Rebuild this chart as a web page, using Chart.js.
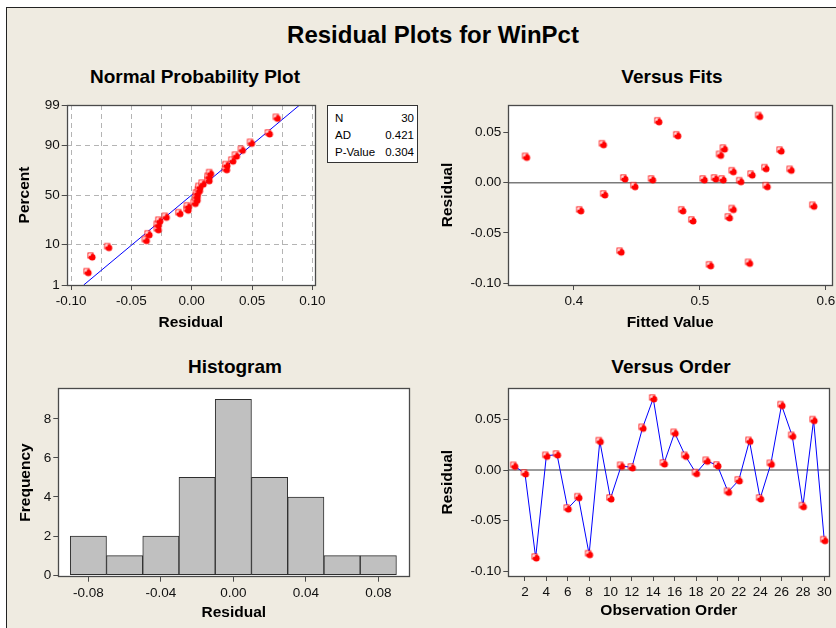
<!DOCTYPE html>
<html>
<head>
<meta charset="utf-8">
<title>Residual Plots for WinPct</title>
<script src="https://cdn.jsdelivr.net/npm/chart.js@4.4.1/dist/chart.umd.min.js"></script>
<style>
    body {
        margin: 0;
        width: 836px;
        height: 628px;
        overflow: hidden;
        position: relative;
        background: #fff;
        font-family: "Liberation Sans", Arial, sans-serif;
        color: #000;
    }

    #paper {
        position: absolute;
        left: 6px;
        top: 7px;
        width: 840px;
        height: 630px;
        background: #efebe1;
        border-left: 1px solid #222;
        border-top: 1px solid #222;
    }

    canvas {
        position: absolute;
    }

    .title {
        position: absolute;
        transform: translate(-50%, -50%);
        font-weight: bold;
        white-space: nowrap;
        line-height: 1;
    }

    #main-title {
        left: 433px;
        top: 35px;
        font-size: 24px;
    }

    .panel-title {
        font-size: 19px;
    }

    #stats {
        position: absolute;
        left: 327px;
        top: 105px;
        width: 89px;
        height: 56px;
        background: #fff;
        border: 1px solid #333;
        font-size: 11.5px;
    }

    #stats div {
        position: absolute;
        left: 7px;
        right: 3px;
        height: 17px;
        line-height: 17px;
    }

    #stats span {
        float: right;
    }
</style>
</head>
<body>
<div id="paper"></div>
<div class="title" id="main-title">Residual Plots for WinPct</div>
<div class="title panel-title" style="left:195px; top:76px;">Normal Probability Plot</div>
<div class="title panel-title" style="left:672px; top:76px;">Versus Fits</div>
<div class="title panel-title" style="left:235px; top:366px;">Histogram</div>
<div class="title panel-title" style="left:671px; top:366px;">Versus Order</div>

<canvas id="js--prob" width="335" height="280" style="left:0; top:60px;"></canvas>
<canvas id="js--fits" width="440" height="280" style="left:420px; top:60px;"></canvas>
<canvas id="js--hist" width="420" height="278" style="left:0; top:350px;"></canvas>
<canvas id="js--order" width="440" height="278" style="left:420px; top:350px;"></canvas>

<div id="stats"></div>

<script>

// residuen in volgorde van observatie (Versus Order)
const obsNumbers = [1, 2, 3, 4, 5, 6, 7, 8, 9, 10, 11, 12, 13, 14, 15,
    16, 17, 18, 19, 20, 21, 22, 23, 24, 25, 26, 27, 28, 29, 30];
const orderResid = [0.0041, -0.0034, -0.0863, 0.0140, 0.0153, -0.0380, -0.0268, -0.0830, 0.0285, -0.0281,
    0.0041, 0.0025, 0.0416, 0.0706, 0.0064, 0.0367, 0.0140, -0.0031, 0.0091, 0.0045,
    -0.0215, -0.0102, 0.0288, -0.0281, 0.0061, 0.0640, 0.0337, -0.0357, 0.0492, -0.0692];

// Versus Fits punten
const fitsFitted = [0.362, 0.423, 0.424, 0.405, 0.437, 0.440, 0.448, 0.462, 0.467, 0.482,
    0.486, 0.494, 0.503, 0.508, 0.512, 0.516, 0.519, 0.518, 0.523, 0.526,
    0.526, 0.532, 0.539, 0.541, 0.547, 0.552, 0.553, 0.564, 0.572, 0.590];
const fitsResid = [0.0257, 0.0383, -0.0117, -0.0276, -0.0687, 0.0042, -0.0035, 0.0032, 0.0611, 0.0472,
    -0.0276, -0.0376, 0.0032, -0.0823, 0.0042, 0.0277, 0.0340, 0.0032, -0.0346, 0.0114,
    -0.0263, 0.0015, -0.0799, 0.0081, 0.0664, 0.0144, -0.0035, 0.0320, 0.0128, -0.0230];

// histogram
const histMid = [-0.08, -0.06, -0.04, -0.02, 0.00, 0.02, 0.04, 0.06, 0.08];
const histCount = [2, 1, 2, 5, 9, 5, 4, 1, 1];

// tick labels
const probXTicks = [-0.100, -0.075, -0.050, -0.025, 0.000, 0.025, 0.050, 0.075, 0.100];
const probYTicks = [1, 10, 50, 90, 99];
const probLinePct = [1, 99];
const fitsXTicks = [0.4, 0.5, 0.6];
const residTicks = [-0.10, -0.05, 0.00, 0.05];
const histXTicks = [-0.08, -0.04, 0.00, 0.04, 0.08];
const histYTicks = [0, 2, 4, 6, 8];
const orderXTicks = [2, 4, 6, 8, 10, 12, 14, 16, 18, 20, 22, 24, 26, 28, 30];

// legenda blokje
const statLabels = ["N", "AD", "P-Value"];
const statValues = ["30", "0.421", "0.304"];


/* stats box */
const stats = document.getElementById("stats");
for (let i = 0; i < statLabels.length; i++) {
    const row = document.createElement("div");
    row.style.top = (3.5 + i * 17.3) + "px";
    row.innerHTML = statLabels[i] + "<span>" + statValues[i] + "</span>";
    stats.appendChild(row);
}


/* inverse normaal verdeling (voor de percent as) */
function invNorm(p) {
    const a = [-3.969683028665376e+01, 2.209460984245205e+02, -2.759285104469687e+02, 1.383577518672690e+02, -3.066479806614716e+01, 2.506628277459239e+00];
    const b = [-5.447609879822406e+01, 1.615858368580409e+02, -1.556989798598866e+02, 6.680131188771972e+01, -1.328068155288572e+01];
    const c = [-7.784894002430293e-03, -3.223964580411365e-01, -2.400758277161838e+00, -2.549732539343734e+00, 4.374664141464968e+00, 2.938163982698783e+00];
    const d = [7.784695709041462e-03, 3.224671290700398e-01, 2.445134137142996e+00, 3.754408661907416e+00];
    let q, r;
    if (p < 0.02425) {
        q = Math.sqrt(-2 * Math.log(p));
        return (((((c[0] * q + c[1]) * q + c[2]) * q + c[3]) * q + c[4]) * q + c[5]) / ((((d[0] * q + d[1]) * q + d[2]) * q + d[3]) * q + 1);
    }
    if (p > 1 - 0.02425) {
        q = Math.sqrt(-2 * Math.log(1 - p));
        return -(((((c[0] * q + c[1]) * q + c[2]) * q + c[3]) * q + c[4]) * q + c[5]) / ((((d[0] * q + d[1]) * q + d[2]) * q + d[3]) * q + 1);
    }
    q = p - 0.5;
    r = q * q;
    return (((((a[0] * r + a[1]) * r + a[2]) * r + a[3]) * r + a[4]) * r + a[5]) * q / (((((b[0] * r + b[1]) * r + b[2]) * r + b[3]) * r + b[4]) * r + 1);
}


/* minitab marker: vierkantje met rood bolletje er half over */
function makeMarker() {
    const m = document.createElement("canvas");
    m.width = 11;
    m.height = 11;
    const ctx = m.getContext("2d");
    ctx.fillStyle = "#ff0000";
    ctx.fillRect(1.5, 1.5, 6, 6);
    ctx.fillStyle = "#ffffff";
    ctx.fillRect(2.5, 2.5, 4, 4);
    ctx.beginPath();
    ctx.arc(6.2, 6.2, 3.3, 0, Math.PI * 2);
    ctx.fillStyle = "#ff0000";
    ctx.fill();
    ctx.fillStyle = "#ffe4e4";
    ctx.fillRect(2.5, 2.5, 2.2, 2.2);
    return m;
}
const marker = makeMarker();


/* plugins */
const plotFrame = {
    id: "plotFrame",
    beforeDraw: function (chart) {
        const a = chart.chartArea;
        const ctx = chart.ctx;
        ctx.save();
        ctx.fillStyle = "#ffffff";
        ctx.fillRect(a.left, a.top, a.right - a.left, a.bottom - a.top);
        ctx.restore();
    },
    afterDraw: function (chart) {
        const a = chart.chartArea;
        const ctx = chart.ctx;
        ctx.save();
        ctx.strokeStyle = "#4a4a4a";
        ctx.lineWidth = 1.3;
        ctx.strokeRect(Math.round(a.left) + 0.5, Math.round(a.top) + 0.5,
            Math.round(a.right - a.left), Math.round(a.bottom - a.top));
        ctx.restore();
    }
};

const zeroLine = {
    id: "zeroLine",
    beforeDatasetsDraw: function (chart) {
        const a = chart.chartArea;
        const y = chart.scales.y.getPixelForValue(0);
        const ctx = chart.ctx;
        ctx.save();
        ctx.strokeStyle = "#7a7a7a";
        ctx.lineWidth = 1.6;
        ctx.beginPath();
        ctx.moveTo(a.left, y);
        ctx.lineTo(a.right, y);
        ctx.stroke();
        ctx.restore();
    }
};


Chart.defaults.font.family = "'Liberation Sans', Arial, sans-serif";
Chart.defaults.color = "#111";
Chart.defaults.animation = false;
Chart.defaults.plugins.legend.display = false;
Chart.defaults.plugins.tooltip.enabled = false;

// as instellingen, breedte/hoogte vast zodat de plot op de goede plek komt
function axis(o) {
    return {
        type: "linear",
        min: o.min,
        max: o.max,
        afterBuildTicks: function (scale) {
            scale.ticks = o.ticks.map(function (v) { return { value: v }; });
        },
        afterFit: function (scale) {
            if (scale.isHorizontal()) {
                scale.height = o.size;
            } else {
                scale.width = o.size;
            }
        },
        ticks: {
            autoSkip: false,
            maxRotation: 0,
            padding: o.horizontal ? 3 : 2,
            font: { size: 13.5 },
            color: "#111",
            callback: o.label
        },
        grid: {
            drawOnChartArea: !!o.grid,
            color: "#b4b4b4",
            lineWidth: 1,
            tickLength: 5,
            tickWidth: 1,
            tickColor: o.tickColor || "#4a4a4a",
            offset: false
        },
        border: { display: false, dash: [5, 4] },
        title: {
            display: true,
            text: o.title,
            color: "#000",
            font: { size: 15.5, weight: "bold", lineHeight: 1 },
            padding: o.horizontal ? { top: 0, bottom: o.titlePad } : { top: o.titlePad, bottom: 0 }
        }
    };
}


/* Normal Probability Plot */
const sortedResid = orderResid.slice().sort(function (p, q) { return p - q; });
const n = sortedResid.length;
const probPoints = sortedResid.map(function (r, i) {
    return { x: r, y: invNorm((i + 1 - 0.3) / (n + 0.4)) };
});

let mean = 0;
orderResid.forEach(function (r) { mean = mean + r; });
mean = mean / n;
let ss = 0;
orderResid.forEach(function (r) { ss = ss + (r - mean) * (r - mean); });
const sd = Math.sqrt(ss / (n - 1));
const fitLine = probLinePct.map(function (p) {
    const z = invNorm(p / 100);
    return { x: mean + z * sd, y: z };
});

const probX = axis({
    min: -0.1036, max: 0.1022, ticks: probXTicks, size: 50, horizontal: true, grid: true,
    title: "Residual", titlePad: 4.25,
    label: function (v) {
        return Math.abs(v * 20 - Math.round(v * 20)) < 1e-6 ? v.toFixed(2) : "";
    },
    tickColor: function (ctx) {
        const v = ctx.tick ? ctx.tick.value : 0;
        return Math.abs(v * 20 - Math.round(v * 20)) < 1e-6 ? "#4a4a4a" : "rgba(0,0,0,0)";
    }
});
const probY = axis({
    min: invNorm(0.01), max: invNorm(0.99), ticks: probYTicks.map(function (p) { return invNorm(p / 100); }),
    size: 56.7, grid: true, title: "Percent", titlePad: 7.25,
    label: function (v, i) { return String(probYTicks[i]); }
});

new Chart(document.getElementById("js--prob"), {
    type: "scatter",
    data: {
        datasets: [
            {
                data: probPoints,
                pointStyle: marker,
                pointRadius: 5,
                clip: false
            },
            {
                type: "line",
                data: fitLine,
                borderColor: "#0000ff",
                borderWidth: 1,
                pointRadius: 0,
                showLine: true,
                clip: 0
            }
        ]
    },
    options: {
        responsive: false,
        layout: { padding: { left: 10, right: 20, top: 45, bottom: 5 } },
        scales: { x: probX, y: probY }
    },
    plugins: [plotFrame]
});


/* Versus Fits */
const fitsPoints = fitsFitted.map(function (f, i) { return { x: f, y: fitsResid[i] }; });

new Chart(document.getElementById("js--fits"), {
    type: "scatter",
    data: {
        datasets: [{
            data: fitsPoints,
            pointStyle: marker,
            pointRadius: 5,
            clip: false
        }]
    },
    options: {
        responsive: false,
        layout: { padding: { left: 10, right: 28, top: 45, bottom: 5 } },
        scales: {
            x: axis({
                min: 0.3479, max: 0.6048, ticks: fitsXTicks, size: 50, horizontal: true,
                title: "Fitted Value", titlePad: 4.25,
                label: function (v) { return v.toFixed(1); }
            }),
            y: axis({
                min: -0.1019, max: 0.0774, ticks: residTicks, size: 78.3,
                title: "Residual", titlePad: 9.75,
                label: function (v) { return v.toFixed(2); }
            })
        }
    },
    plugins: [plotFrame, zeroLine]
});


/* Histogram */
const histData = histMid.map(function (m, i) { return { x: m, y: histCount[i] }; });

new Chart(document.getElementById("js--hist"), {
    type: "bar",
    data: {
        datasets: [{
            data: histData,
            backgroundColor: "#c0c0c0",
            borderColor: "#2e2e2e",
            borderWidth: 1,
            borderSkipped: false,
            barPercentage: 1,
            categoryPercentage: 1
        }]
    },
    options: {
        responsive: false,
        layout: { padding: { left: 10, right: 10.7, top: 38.3, bottom: 0 } },
        scales: {
            x: Object.assign(axis({
                min: -0.0966, max: 0.0971, ticks: histXTicks, size: 51.3, horizontal: true,
                title: "Residual", titlePad: 7.25,
                label: function (v) { return v.toFixed(2); }
            }), { offset: false }),
            y: axis({
                min: -0.08, max: 9.56, ticks: histYTicks, size: 48.3,
                title: "Frequency", titlePad: 7.75,
                label: function (v) { return String(v); }
            })
        }
    },
    plugins: [plotFrame]
});


/* Versus Order */
const orderPoints = orderResid.map(function (r, i) { return { x: obsNumbers[i], y: r }; });

new Chart(document.getElementById("js--order"), {
    type: "line",
    data: {
        datasets: [{
            data: orderPoints,
            borderColor: "#0000ff",
            borderWidth: 1,
            tension: 0,
            pointStyle: marker,
            pointRadius: 5,
            clip: false
        }]
    },
    options: {
        responsive: false,
        layout: { padding: { left: 10, right: 30.7, top: 38.3, bottom: 0 } },
        scales: {
            x: axis({
                min: 0.44, max: 30.47, ticks: orderXTicks, size: 52, horizontal: true,
                title: "Observation Order", titlePad: 9.5,
                label: function (v) { return String(v); }
            }),
            y: axis({
                min: -0.1045, max: 0.0806, ticks: residTicks, size: 78.3,
                title: "Residual", titlePad: 10.25,
                label: function (v) { return v.toFixed(2); }
            })
        }
    },
    plugins: [plotFrame, zeroLine]
});
</script>
</body>
</html>
